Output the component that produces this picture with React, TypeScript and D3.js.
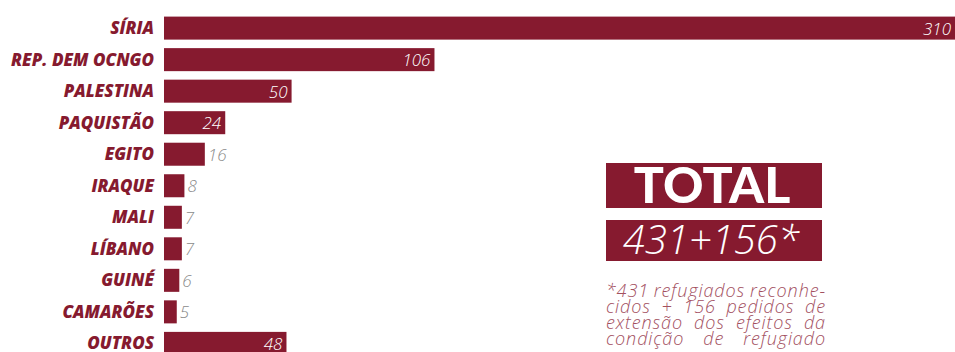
import React from "react";
import * as d3 from "d3";

const categories = ["SÍRIA", "REP. DEM OCNGO", "PALESTINA", "PAQUISTÃO", "EGITO", "IRAQUE", "MALI", "LÍBANO", "GUINÉ", "CAMARÕES", "OUTROS"];
const values = [310, 106, 50, 24, 16, 8, 7, 7, 6, 5, 48];
const totalTitle = "TOTAL";
const totalValue = "431+156*";
const footLines = [
  "*431 refugiados reconhe-",
  "cidos + 156 pedidos de",
  "extensão dos efeitos da",
  "condição de refugiado",
];

const W = 955;
const H = 352;
const RED = "#861a2f";
const x0 = 164;

function measure(text: string, font: string, ls: number): number {
  const c = document.createElement("canvas").getContext("2d")!;
  c.font = font;
  return c.measureText(text).width + ls * text.length;
}

export default function App() {
  const x = d3.scaleLinear().domain([0, 310]).range([x0, W]);
  const y = d3.scaleBand<string>().domain(categories).range([12.5, 359]).paddingInner(0.27).paddingOuter(0.13);
  const bw = y.bandwidth();
  const footFont = "italic 300 18px 'Open Sans'";
  const ls = 0.9;
  const fx0 = 606, fx1 = 826;
  return (
    <svg width={W} height={H} style={{ position: "absolute", left: 0, top: 0, background: "#fff" }}>
      {categories.map((c, i) => {
        const yy = y(c)!;
        const v = values[i];
        const xe = x(v);
        const inside = xe - x0 > 50;
        return (
          <g key={c}>
            <rect x={x0} y={yy} width={xe - x0} height={bw} fill={RED} />
            <text x={154} y={yy + bw / 2 + 6} textAnchor="end" fill={RED}
              style={{ font: "italic 800 17px 'Open Sans'" }}>{c}</text>
            <text x={inside ? xe - 4 : xe + 3} y={yy + bw / 2 + 6.5} textAnchor={inside ? "end" : "start"}
              fill={inside ? "#fff" : "#8a8a8a"} style={{ font: "italic 300 17px 'Open Sans'" }}>{v}</text>
          </g>
        );
      })}
      <rect x={606} y={163} width={216} height={45} fill={RED} />
      <text x={712} y={203} textAnchor="middle" fill="#fff" style={{ font: "900 50px Lato" }}>{totalTitle}</text>
      <rect x={606} y={220} width={216} height={41} fill={RED} />
      <text x={711} y={254} textAnchor="middle" fill="#fff" style={{ font: "italic 300 40px 'Open Sans'" }}>{totalValue}</text>
      {footLines.map((ln, li) => {
        const words = ln.split(" ");
        const total = words.reduce((a, w) => a + measure(w, footFont, ls), 0);
        const space = measure(" ", footFont, ls);
        const gap = words.length > 1 ? (fx1 - fx0 - total) / (words.length - 1) : 0;
        return (
          <text key={li} x={fx0} y={297 + li * 16} fill="#a3505f"
            style={{ font: footFont, letterSpacing: ls + "px", wordSpacing: (gap - space) + "px" }}>{ln}</text>
        );
      })}
    </svg>
  );
}
